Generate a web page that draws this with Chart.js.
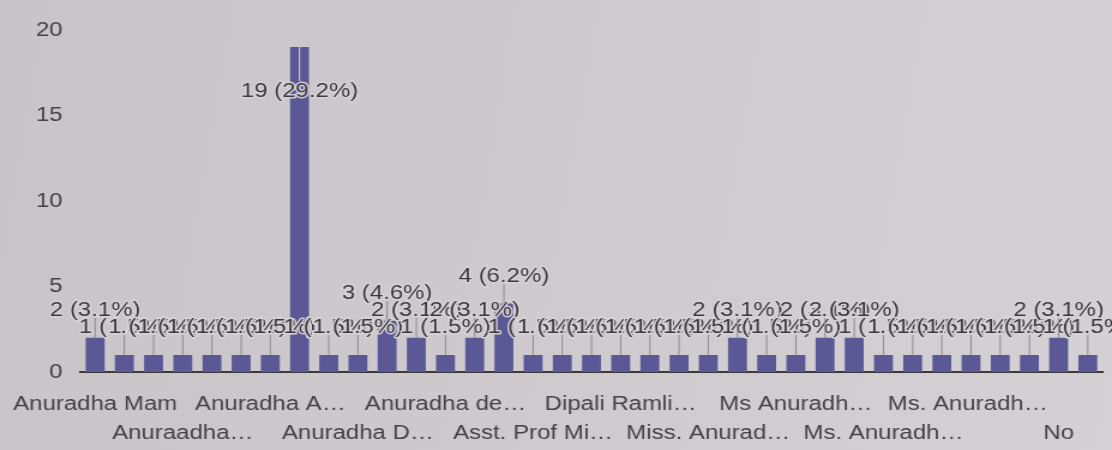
<!DOCTYPE html>
<html>
<head>
<meta charset="utf-8">
<script src="https://cdn.jsdelivr.net/npm/chart.js@4.4.1/dist/chart.umd.min.js"></script>
<style>
html, body { margin: 0; padding: 0; }
body {
  width: 1112px; height: 450px; overflow: hidden;
  background: linear-gradient(100deg, #c8c4c8 0%, #cdc9cd 45%, #d4d1d5 100%);
}
canvas { display: block; }
</style>
</head>
<body>
<!-- the photo is stretched sideways, so the canvas is drawn narrower and widened by css -->
<canvas id="chart" width="927" height="450" style="width:1112px;height:450px"></canvas>
<script>
// answers (only every third name is printed on the axis)
const names = [
  "Anuradha Mam", "Anuradha mam", "Anuradha Madam",
  "Anuraadha…", "Anuradha", "Anuradha Ma'am",
  "Anuradha A…", "Anuradha B…", "Anuradha C…",
  "Anuradha D…", "Anuradha Da…", "Anuradha De…",
  "Anuradha de…", "Anuradha di…", "Anuradha M…",
  "Asst. Prof Mi…", "Dr. Anuradha…", "Dipali Ram…",
  "Dipali Ramli…", "Dipali R…", "Miss Anuradha…",
  "Miss. Anurad…", "Mrs Anuradha…", "Ms Anuradha",
  "Ms Anuradh…", "Ms Anu…", "Ms. Anuradha",
  "Ms. Anuradh…", "Ms. Anura…", "Ms. Anuradha D…",
  "Ms. Anuradh… ", "Ms. Anuradha M…", "Ms. Dipali…",
  "No", "Not known"
];
const counts = [
  2, 1, 1, 1, 1, 1, 1, 19, 1, 1,
  3, 2, 1, 2, 4, 1, 1, 1, 1, 1,
  1, 1, 2, 1, 1, 2, 2, 1, 1, 1,
  1, 1, 1, 2, 1
];
const yMax = 20;
const yStep = 5;

const total = counts.reduce((a, b) => a + b, 0);
const family = "'Liberation Sans', Arial, sans-serif";
const barColor = "#5b5896";

// "n (p%)" labels with a small stem, like the Forms summary chart
const annotate = {
  id: "annotate",
  afterDatasetsDraw(chart) {
    const ctx = chart.ctx;
    const bars = chart.getDatasetMeta(0).data;
    const top = chart.chartArea.top;
    ctx.save();
    ctx.font = "20px " + family;
    ctx.textAlign = "center";
    ctx.textBaseline = "alphabetic";
    bars.forEach((bar, i) => {
      const txt = counts[i] + " (" + (counts[i] / total * 100).toFixed(1) + "%)";
      const x = bar.x;
      let base = bar.y - 22;
      let stemEnd = base + 2;
      let stemColor = "#8e8a91";
      if (base - 16 < top) {
        // no room above: put it inside the bar
        base = bar.y + 50;
        stemEnd = base - 16;
        stemColor = "rgba(236,234,240,0.85)";
      }
      ctx.strokeStyle = stemColor;
      ctx.lineWidth = 1;
      ctx.beginPath();
      ctx.moveTo(x, bar.y);
      ctx.lineTo(x, stemEnd);
      ctx.stroke();
      ctx.lineWidth = 3;
      ctx.lineJoin = "round";
      ctx.strokeStyle = "rgba(214,211,216,0.95)";
      ctx.strokeText(txt, x, base);
      ctx.fillStyle = "#3b393e";
      ctx.fillText(txt, x, base);
    });
    ctx.restore();
  }
};

new Chart(document.getElementById("chart"), {
  type: "bar",
  data: {
    labels: names,
    datasets: [{
      data: counts,
      backgroundColor: barColor,
      borderWidth: 0,
      categoryPercentage: 0.9,
      barPercentage: 0.72
    }]
  },
  options: {
    responsive: false,
    animation: false,
    devicePixelRatio: 1,
    layout: { padding: { top: 30, right: 8, bottom: 0, left: 0 } },
    plugins: { legend: { display: false }, tooltip: { enabled: false } },
    scales: {
      x: {
        grid: { display: false },
        border: { display: true, color: "#3b393e", width: 2 },
        ticks: {
          autoSkip: false, maxRotation: 0, minRotation: 0, padding: 10,
          color: "#444247",
          font: { size: 20, family: family, lineHeight: 1.45 },
          callback: (v, i) => {
            if (i % 3 !== 0) return "";
            return (i / 3) % 2 === 0 ? names[i] : ["", names[i]];
          }
        },
        afterFit(s) { s.height = 78; }
      },
      y: {
        min: 0, max: yMax,
        grid: { display: false },
        border: { display: false },
        ticks: {
          stepSize: yStep, padding: 7, color: "#444247",
          font: { size: 20, family: family }
        },
        afterFit(s) { s.width = 67; }
      }
    }
  },
  plugins: [annotate]
});
</script>
</body>
</html>
